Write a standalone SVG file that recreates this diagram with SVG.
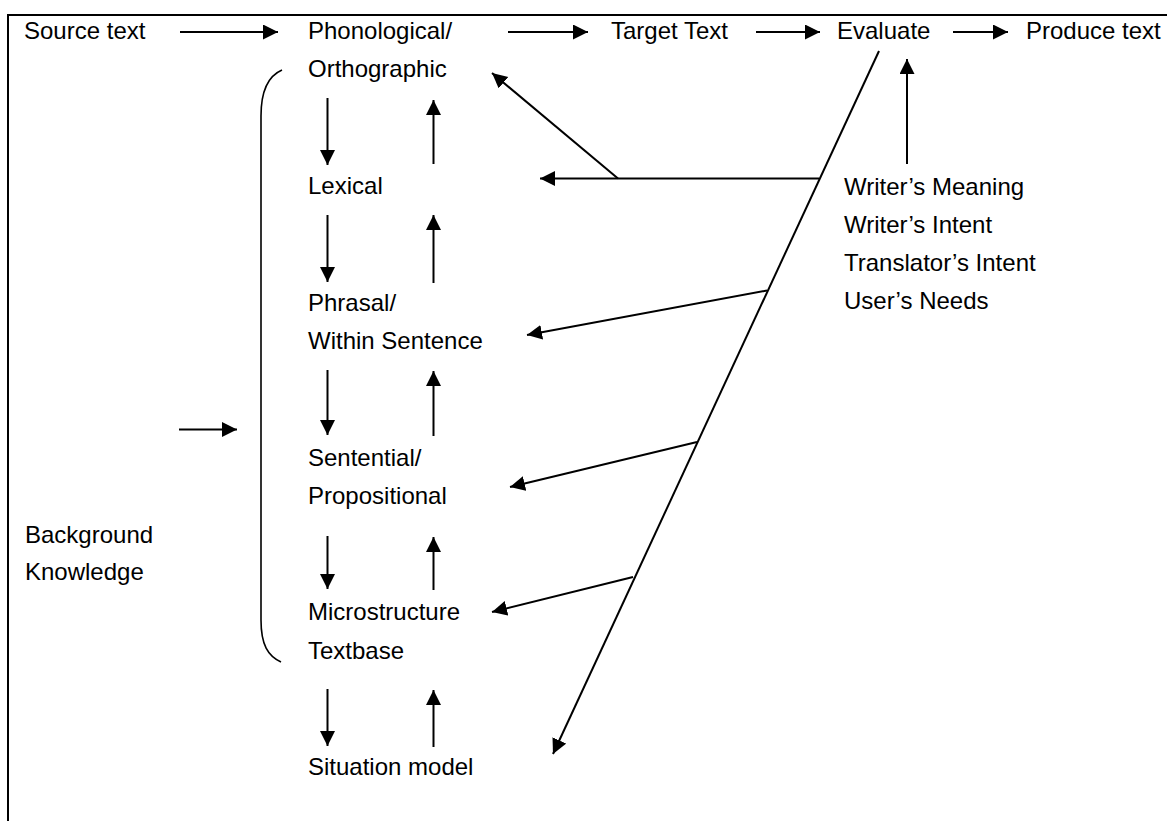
<svg xmlns="http://www.w3.org/2000/svg" width="1167" height="821" viewBox="0 0 1167 821">
<style>
text{font-family:"Liberation Sans",Arial,sans-serif;font-size:24px;fill:#000}
.c{stroke:#000;stroke-width:2;fill:none}
.a{marker-end:url(#ah)}
</style>
<defs>
<marker id="ah" markerUnits="userSpaceOnUse" markerWidth="17" markerHeight="17" refX="15" refY="7.5" orient="auto"><path d="M0,0 L15,7.5 L0,15 z" fill="#000"/></marker>
</defs>
<rect width="1167" height="821" fill="#fff"/>
<path d="M8,821 L8,15 L1167,15" fill="none" stroke="#000" stroke-width="2"/>
<g id="source"><text x="24" y="39">Source text</text></g>
<g id="phono"><text x="308" y="39">Phonological/</text><text x="308" y="77">Orthographic</text></g>
<g id="target"><text x="611" y="39">Target Text</text></g>
<g id="evaluate"><text x="837" y="39">Evaluate</text></g>
<g id="produce"><text x="1026" y="39">Produce text</text></g>
<g id="lexical"><text x="308" y="194">Lexical</text></g>
<g id="phrasal"><text x="308" y="311">Phrasal/</text><text x="308" y="349">Within Sentence</text></g>
<g id="sentential"><text x="308" y="466">Sentential/</text><text x="308" y="504">Propositional</text></g>
<g id="micro"><text x="308" y="620">Microstructure</text><text x="308" y="659">Textbase</text></g>
<g id="situation"><text x="308" y="775">Situation model</text></g>
<g id="background"><text x="25" y="543">Background</text><text x="25" y="580">Knowledge</text></g>
<g id="meaning"><text x="844" y="195">Writer’s Meaning</text><text x="844" y="233">Writer’s Intent</text><text x="844" y="271">Translator’s Intent</text><text x="844" y="309">User’s Needs</text></g>
<g id="bracket"><path d="M282,70 C268,76 261,92 261,116 L261,620 C261,645 268,656 281,662" fill="none" stroke="#000" stroke-width="1.6"/></g>
<g id="connectors">
<line class="c a" x1="180" y1="32" x2="278" y2="32"/>
<line class="c a" x1="508" y1="32" x2="588" y2="32"/>
<line class="c a" x1="756" y1="32" x2="820" y2="32"/>
<line class="c a" x1="953" y1="32" x2="1008" y2="32"/>
<line class="c a" x1="907" y1="164" x2="907" y2="59"/>
<line class="c a" x1="327.5" y1="98" x2="327.5" y2="165"/>
<line class="c a" x1="433.5" y1="164" x2="433.5" y2="100"/>
<line class="c a" x1="327.5" y1="215" x2="327.5" y2="282"/>
<line class="c a" x1="433.5" y1="283" x2="433.5" y2="215"/>
<line class="c a" x1="327.5" y1="370" x2="327.5" y2="435"/>
<line class="c a" x1="433.5" y1="436" x2="433.5" y2="371"/>
<line class="c a" x1="327.5" y1="536" x2="327.5" y2="589"/>
<line class="c a" x1="433.5" y1="590" x2="433.5" y2="537"/>
<line class="c a" x1="327.5" y1="689" x2="327.5" y2="746"/>
<line class="c a" x1="433.5" y1="747" x2="433.5" y2="690"/>
<line class="c a" x1="179" y1="429.5" x2="237" y2="429.5"/>
<line class="c a" x1="879" y1="51" x2="553" y2="754"/>
<line class="c a" x1="819" y1="178.5" x2="540" y2="178.5"/>
<line class="c a" x1="618" y1="178.5" x2="492" y2="73"/>
<line class="c a" x1="767" y1="290.5" x2="527" y2="335"/>
<line class="c a" x1="697" y1="442" x2="510" y2="487"/>
<line class="c a" x1="633" y1="577" x2="492" y2="612"/>
</g>
</svg>
